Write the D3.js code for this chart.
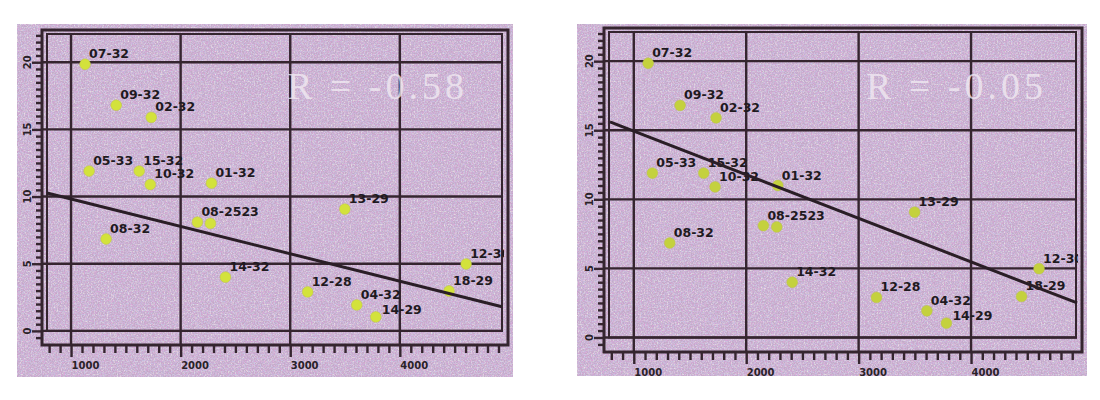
<!DOCTYPE html>
<html>
<head>
<meta charset="utf-8">
<script src="https://cdn.jsdelivr.net/npm/d3@7"></script>
<style>
  html, body { margin: 0; padding: 0; background: #ffffff; }
  svg { display: block; }
</style>
</head>
<body>
<svg id="chart" width="1100" height="400"></svg>
<script>
// ---------- data ----------
const pointLabels = ["07-32","09-32","02-32","05-33","15-32","10-32","01-32","08-32","08-2523","","14-32","13-29","12-28","04-32","14-29","12-30","18-29"];
const xValues = [1128,1412,1732,1165,1622,1723,2281,1320,2153,2272,2409,3498,3159,3607,3781,4605,4449];
const yValues = [19.85,16.8,15.9,11.9,11.9,10.9,11.0,6.84,8.1,8.0,4.0,9.07,2.9,1.93,1.04,4.98,2.97];
const xTickLabels = [1000, 2000, 3000, 4000];
const yTickLabels = [0, 5, 10, 15, 20];
const leftLineX = [781, 4932];
const leftLineY = [10.27, 1.8];
const rightLineX = [788, 4943];
const rightLineY = [15.6, 2.5];
const rTexts = ["R = -0.58", "R = -0.05"];

// ---------- drawing ----------
const svg = d3.select("#chart");
const defs = svg.append("defs");

// paper-like speckle texture
const f = defs.append("filter").attr("id", "speck").attr("x", 0).attr("y", 0).attr("width", "100%").attr("height", "100%");
f.append("feTurbulence").attr("type", "fractalNoise").attr("baseFrequency", 0.7).attr("numOctaves", 2).attr("seed", 7).attr("result", "t");
f.append("feColorMatrix").attr("in", "t").attr("type", "matrix")
  .attr("values", "0 0 0 0 0.72  0 0 0 0 0.38  0 0 0 0 0.70  2.6 0 0 0 -1.05").attr("result", "pink");
f.append("feColorMatrix").attr("in", "t").attr("type", "matrix")
  .attr("values", "0 0 0 0 0.86  0 0 0 0 0.84  0 0 0 0 0.82  0 2.2 0 0 -1.05").attr("result", "light");
f.append("feColorMatrix").attr("in", "t").attr("type", "matrix")
  .attr("values", "0 0 0 0 0.58  0 0 0 0 0.55  0 0 0 0 0.80  0 0 2.4 0 -1.05").attr("result", "blue");
f.append("feMerge").call(m => {
  m.append("feMergeNode").attr("in", "pink");
  m.append("feMergeNode").attr("in", "light");
  m.append("feMergeNode").attr("in", "blue");
});

const panels = [
  { bg: [17, 24, 496, 353], frame: [42, 30, 508, 345], line: [leftLineX, leftLineY], r: rTexts[0], rx: 287, dot: "#d3e23c", id: "L" },
  { bg: [577, 24, 510, 352], frame: [604, 28, 1082, 352], line: [rightLineX, rightLineY], r: rTexts[1], rx: 866, dot: "#c4d13e", id: "R" }
];

// small label nudges (pixels) where labels crowd each other
const labelNudge = { "14-29": [2, 3] };

const ink = "#35252f";

panels.forEach(p => {
  const g = svg.append("g");
  const [fx0, fy0, fx1, fy1] = p.frame;
  const x = d3.scaleLinear().domain([735, 4987]).range([fx0, fx1]);
  const y = d3.scaleLinear().domain([-1.05, 22.4]).range([fy1, fy0]);

  // background
  g.append("rect").attr("x", p.bg[0]).attr("y", p.bg[1]).attr("width", p.bg[2]).attr("height", p.bg[3]).attr("fill", "#c2aac7");
  g.append("rect").attr("x", p.bg[0]).attr("y", p.bg[1]).attr("width", p.bg[2]).attr("height", p.bg[3]).attr("filter", "url(#speck)");

  // grid lines
  g.selectAll(".gx").data(xTickLabels).join("line")
    .attr("x1", d => x(d)).attr("x2", d => x(d)).attr("y1", fy0 + 4).attr("y2", fy1)
    .attr("stroke", ink).attr("stroke-width", 2.4);
  g.selectAll(".gy").data(yTickLabels).join("line")
    .attr("x1", fx0).attr("x2", fx1 - 5).attr("y1", d => y(d)).attr("y2", d => y(d))
    .attr("stroke", ink).attr("stroke-width", 2.4);

  // frame: outer + inner
  g.append("rect").attr("x", fx0).attr("y", fy0).attr("width", fx1 - fx0).attr("height", fy1 - fy0)
    .attr("fill", "none").attr("stroke", ink).attr("stroke-width", 3);
  g.append("rect").attr("x", fx0 + 5).attr("y", fy0 + 4).attr("width", fx1 - fx0 - 11).attr("height", y(0) - fy0 - 4)
    .attr("fill", "none").attr("stroke", ink).attr("stroke-width", 2);

  // x axis ticks
  const xAxis = d3.axisBottom(x)
    .tickValues(d3.range(800, 4950, 100))
    .tickSize(8)
    .tickFormat(d => xTickLabels.includes(d) ? d : "");
  const ax = g.append("g").attr("transform", `translate(0,${fy1})`).call(xAxis);
  ax.select(".domain").remove();
  ax.selectAll(".tick line").attr("stroke", ink).attr("stroke-width", 2.4)
    .attr("y2", d => xTickLabels.includes(d) ? 12 : 8);
  ax.selectAll(".tick text").attr("fill", "#2a2228").attr("font-family", "DejaVu Sans").attr("font-weight", "bold")
    .attr("font-size", 10).attr("text-anchor", "start").attr("dx", 0).attr("y", 17);

  // y axis ticks
  const yAxis = d3.axisLeft(y)
    .tickValues(d3.range(-0.5, 22.01, 0.5))
    .tickSize(6)
    .tickFormat("");
  const ay = g.append("g").attr("transform", `translate(${fx0},0)`).call(yAxis);
  ay.select(".domain").remove();
  ay.selectAll(".tick line").attr("stroke", ink).attr("stroke-width", 2.4)
    .attr("x2", d => yTickLabels.includes(d) ? -10 : -6);
  g.selectAll(".ylab").data(yTickLabels).join("text")
    .attr("transform", d => `translate(${fx0 - 15},${y(d)}) rotate(-90)`)
    .attr("text-anchor", "middle").attr("dy", "0.35em")
    .attr("fill", "#2a2228").attr("font-family", "DejaVu Sans").attr("font-weight", "bold").attr("font-size", 10)
    .text(d => d);

  // R text
  g.append("text").attr("x", p.rx).attr("y", 99)
    .attr("font-family", "Liberation Serif").attr("font-size", 38).attr("letter-spacing", 4)
    .attr("fill", "#f1eaf2").attr("fill-opacity", 0.78)
    .text(p.r);

  // clip for labels
  defs.append("clipPath").attr("id", "clip" + p.id)
    .append("rect").attr("x", fx0).attr("y", fy0).attr("width", fx1 - fx0 - 4).attr("height", fy1 - fy0);

  const idx = d3.range(xValues.length);
  // points
  g.selectAll(".pt").data(idx).join("circle")
    .attr("cx", i => x(xValues[i])).attr("cy", i => y(yValues[i])).attr("r", 5.4)
    .attr("fill", p.dot).attr("stroke", "#b9c448").attr("stroke-width", 0.8).attr("stroke-opacity", 0.6);

  // labels
  g.append("g").attr("clip-path", `url(#clip${p.id})`)
    .selectAll("text").data(idx.filter(i => pointLabels[i] !== "")).join("text")
    .attr("x", i => x(xValues[i]) + 4 + (labelNudge[pointLabels[i]] || [0, 0])[0])
    .attr("y", i => y(yValues[i]) - 6 + (labelNudge[pointLabels[i]] || [0, 0])[1])
    .attr("font-family", "DejaVu Sans").attr("font-weight", "bold").attr("font-size", 12.5)
    .attr("fill", "#1f1a1f")
    .text(i => pointLabels[i]);

  // regression line
  const lineData = p.line[0].map((v, i) => [v, p.line[1][i]]);
  g.append("path").datum(lineData)
    .attr("d", d3.line().x(d => x(d[0])).y(d => y(d[1])))
    .attr("stroke", "#2a1e26").attr("stroke-width", 3).attr("fill", "none");
});
</script>
</body>
</html>
